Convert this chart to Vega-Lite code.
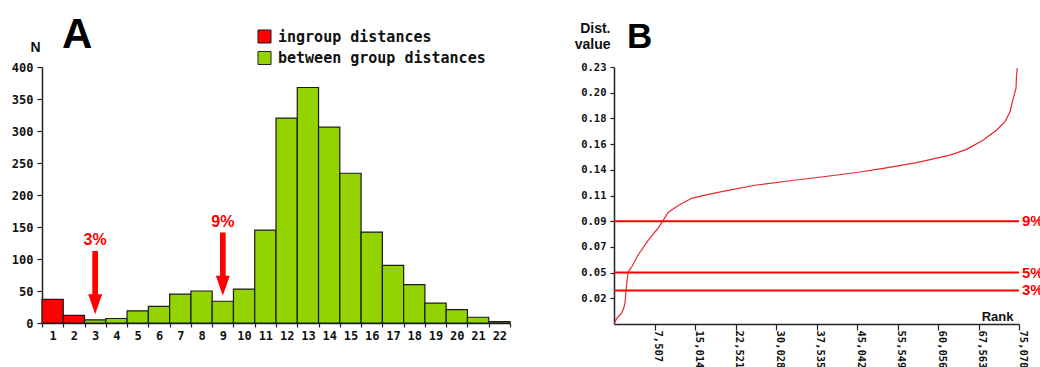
{
  "$schema": "https://vega.github.io/schema/vega-lite/v6.json",
  "background": "white",
  "padding": {"left": 11, "top": 14, "right": 0, "bottom": 0},
  "spacing": 63,
  "config": {
    "view": {"stroke": null},
    "axis": {
      "labelFont": "DejaVu Sans Mono",
      "labelFontWeight": "bold",
      "labelColor": "#111111",
      "labelOverlap": false,
      "domainColor": "#222222",
      "tickColor": "#222222",
      "domainWidth": 1.5,
      "tickWidth": 1.2,
      "grid": false,
      "titleFont": "Liberation Sans",
      "titleFontWeight": "bold",
      "titleColor": "#111111"
    }
  },
  "hconcat": [
    {
      "width": 468,
      "height": 256,
      "title": {"text": "A", "font": "Liberation Sans", "fontSize": 42, "fontWeight": "bold", "anchor": "start", "frame": "group", "dx": 20, "dy": 32, "offset": -18, "baseline": "alphabetic", "color": "#000000"},
      "layer": [
        {
          "data": {"values": [
            {"bin": 1, "n": 37, "group": "ingroup distances"},
            {"bin": 2, "n": 12, "group": "ingroup distances"},
            {"bin": 3, "n": 5, "group": "between group distances"},
            {"bin": 4, "n": 7, "group": "between group distances"},
            {"bin": 5, "n": 19, "group": "between group distances"},
            {"bin": 6, "n": 26, "group": "between group distances"},
            {"bin": 7, "n": 45, "group": "between group distances"},
            {"bin": 8, "n": 50, "group": "between group distances"},
            {"bin": 9, "n": 34, "group": "between group distances"},
            {"bin": 10, "n": 53, "group": "between group distances"},
            {"bin": 11, "n": 145, "group": "between group distances"},
            {"bin": 12, "n": 320, "group": "between group distances"},
            {"bin": 13, "n": 368, "group": "between group distances"},
            {"bin": 14, "n": 306, "group": "between group distances"},
            {"bin": 15, "n": 234, "group": "between group distances"},
            {"bin": 16, "n": 142, "group": "between group distances"},
            {"bin": 17, "n": 90, "group": "between group distances"},
            {"bin": 18, "n": 60, "group": "between group distances"},
            {"bin": 19, "n": 31, "group": "between group distances"},
            {"bin": 20, "n": 21, "group": "between group distances"},
            {"bin": 21, "n": 9, "group": "between group distances"},
            {"bin": 22, "n": 2, "group": "between group distances"}
          ]},
          "mark": {"type": "bar", "stroke": "#1a1a1a", "strokeWidth": 1.2},
          "encoding": {
            "x": {"field": "bin", "type": "ordinal", "scale": {"paddingInner": 0, "paddingOuter": 0},
                  "axis": {"title": null, "labelAngle": 0, "labelOverlap": false, "tickBand": "extent", "tickSize": 4, "labelPadding": 3, "labelFontSize": 12}},
            "y": {"field": "n", "type": "quantitative", "scale": {"domain": [0, 400], "nice": false},
                  "axis": {"title": "N", "titleAngle": 0, "titleX": -7, "titleY": -16, "titleAlign": "center", "titleBaseline": "alphabetic", "titleFontSize": 14,
                           "values": [0, 50, 100, 150, 200, 250, 300, 350, 400], "tickCount": 20, "labelOverlap": false, "tickSize": 5, "labelPadding": 4, "labelFontSize": 12}},
            "color": {"field": "group", "type": "nominal",
                      "scale": {"domain": ["ingroup distances", "between group distances"], "range": ["#ff0000", "#93d300"]},
                      "legend": {"title": null, "orient": "none", "legendX": 215, "legendY": -38, "direction": "vertical", "padding": 0,
                                 "symbolType": "square", "symbolSize": 170, "symbolStrokeColor": "#222222", "symbolStrokeWidth": 1,
                                 "labelFont": "DejaVu Sans Mono", "labelFontWeight": "bold", "labelFontSize": 15, "labelColor": "#111111",
                                 "labelOffset": 6, "labelLimit": 400, "rowPadding": 2.5}}
          }
        },
        {
          "data": {"values": [
            {"bin": 3, "n": 63, "label": "3%", "labelN": 129},
            {"bin": 9, "n": 92, "label": "9%", "labelN": 158}
          ]},
          "layer": [
            {
              "mark": {"type": "point", "shape": "M-0.09,-1L0.09,-1L0.09,0.365L0.22,0.365L0,1L-0.22,0.365L-0.09,0.365Z", "size": 4000, "filled": true, "color": "#ff0000", "opacity": 1, "strokeWidth": 0},
              "encoding": {
                "x": {"field": "bin", "type": "ordinal"},
                "y": {"field": "n", "type": "quantitative"}
              }
            },
            {
              "mark": {"type": "text", "font": "Liberation Sans", "fontWeight": "bold", "fontSize": 16, "color": "#ff0000", "baseline": "middle"},
              "encoding": {
                "x": {"field": "bin", "type": "ordinal"},
                "y": {"field": "labelN", "type": "quantitative"},
                "text": {"field": "label"}
              }
            }
          ]
        }
      ]
    },
    {
      "width": 405,
      "height": 257,
      "title": {"text": "B", "font": "Liberation Sans", "fontSize": 35, "fontWeight": "bold", "anchor": "start", "frame": "group", "dx": 13, "dy": 35, "offset": -26, "baseline": "alphabetic", "color": "#000000"},
      "layer": [
        {
          "data": {"values": [
            {"rank": 0, "value": 0.0},
            {"rank": 500, "value": 0.005},
            {"rank": 1430, "value": 0.010},
            {"rank": 1800, "value": 0.014},
            {"rank": 2040, "value": 0.019},
            {"rank": 2150, "value": 0.025},
            {"rank": 2224, "value": 0.030},
            {"rank": 2400, "value": 0.038},
            {"rank": 2540, "value": 0.044},
            {"rank": 2800, "value": 0.048},
            {"rank": 3280, "value": 0.051},
            {"rank": 4500, "value": 0.062},
            {"rank": 6360, "value": 0.075},
            {"rank": 8210, "value": 0.086},
            {"rank": 9140, "value": 0.093},
            {"rank": 10070, "value": 0.100},
            {"rank": 11920, "value": 0.106},
            {"rank": 14400, "value": 0.1125},
            {"rank": 16870, "value": 0.1154},
            {"rank": 19960, "value": 0.1184},
            {"rank": 26450, "value": 0.1244},
            {"rank": 32620, "value": 0.1282},
            {"rank": 38800, "value": 0.1318},
            {"rank": 45280, "value": 0.1358},
            {"rank": 49920, "value": 0.1393},
            {"rank": 56110, "value": 0.1444},
            {"rank": 62280, "value": 0.1512},
            {"rank": 65380, "value": 0.1563},
            {"rank": 68450, "value": 0.1647},
            {"rank": 70940, "value": 0.1736},
            {"rank": 72480, "value": 0.181},
            {"rank": 73400, "value": 0.190},
            {"rank": 74010, "value": 0.202},
            {"rank": 74520, "value": 0.211},
            {"rank": 74600, "value": 0.222},
            {"rank": 74760, "value": 0.229}
          ]},
          "mark": {"type": "line", "color": "#e8262d", "strokeWidth": 1.2},
          "encoding": {
            "x": {"field": "rank", "type": "quantitative", "scale": {"domain": [0, 75070], "nice": false, "zero": true},
                  "axis": {"title": "Rank", "titleAngle": 0, "titleX": 399, "titleY": -4, "titleAlign": "right", "titleBaseline": "alphabetic", "titleFontSize": 13,
                           "values": [7507, 15014, 22521, 30028, 37535, 45042, 52549, 60056, 67563, 75070], "tickCount": 20,
                           "labelExpr": "['7,507','15,014','22,521','30,028','37,535','45,042','55,549','60,056','67,563','75,070'][round(datum.value/7507)-1]",
                           "labelOverlap": false, "labelAngle": 90, "labelAlign": "left", "labelBaseline": "alphabetic", "tickSize": 6, "labelPadding": 0, "labelFontSize": 10.5}},
            "y": {"field": "value", "type": "quantitative", "scale": {"domain": [0, 0.23], "nice": false},
                  "axis": {"title": ["Dist.", "value"], "titleAngle": 0, "titleX": -4, "titleY": -34.5, "titleAlign": "right", "titleBaseline": "alphabetic", "titleFontSize": 14, "titleLineHeight": 16,
                           "values": [0.023, 0.046, 0.069, 0.092, 0.115, 0.138, 0.161, 0.184, 0.207, 0.23], "tickCount": 20,
                           "labelExpr": "['0.02','0.05','0.07','0.09','0.11','0.14','0.16','0.18','0.20','0.23'][round(datum.value/0.023)-1]",
                           "labelOverlap": false, "tickSize": 4, "labelPadding": 4, "labelFontSize": 10.5}}
          }
        },
        {
          "data": {"values": [
            {"pct": "9%", "value": 0.092},
            {"pct": "5%", "value": 0.046},
            {"pct": "3%", "value": 0.030}
          ]},
          "layer": [
            {
              "mark": {"type": "rule", "color": "#ff0000", "strokeWidth": 2},
              "encoding": {"y": {"field": "value", "type": "quantitative"}}
            },
            {
              "mark": {"type": "text", "align": "left", "dx": 3, "baseline": "middle", "font": "Liberation Sans", "fontWeight": "bold", "fontSize": 15, "color": "#ff0000"},
              "encoding": {
                "x": {"datum": 75070, "type": "quantitative"},
                "y": {"field": "value", "type": "quantitative"},
                "text": {"field": "pct"}
              }
            }
          ]
        }
      ]
    }
  ]
}
